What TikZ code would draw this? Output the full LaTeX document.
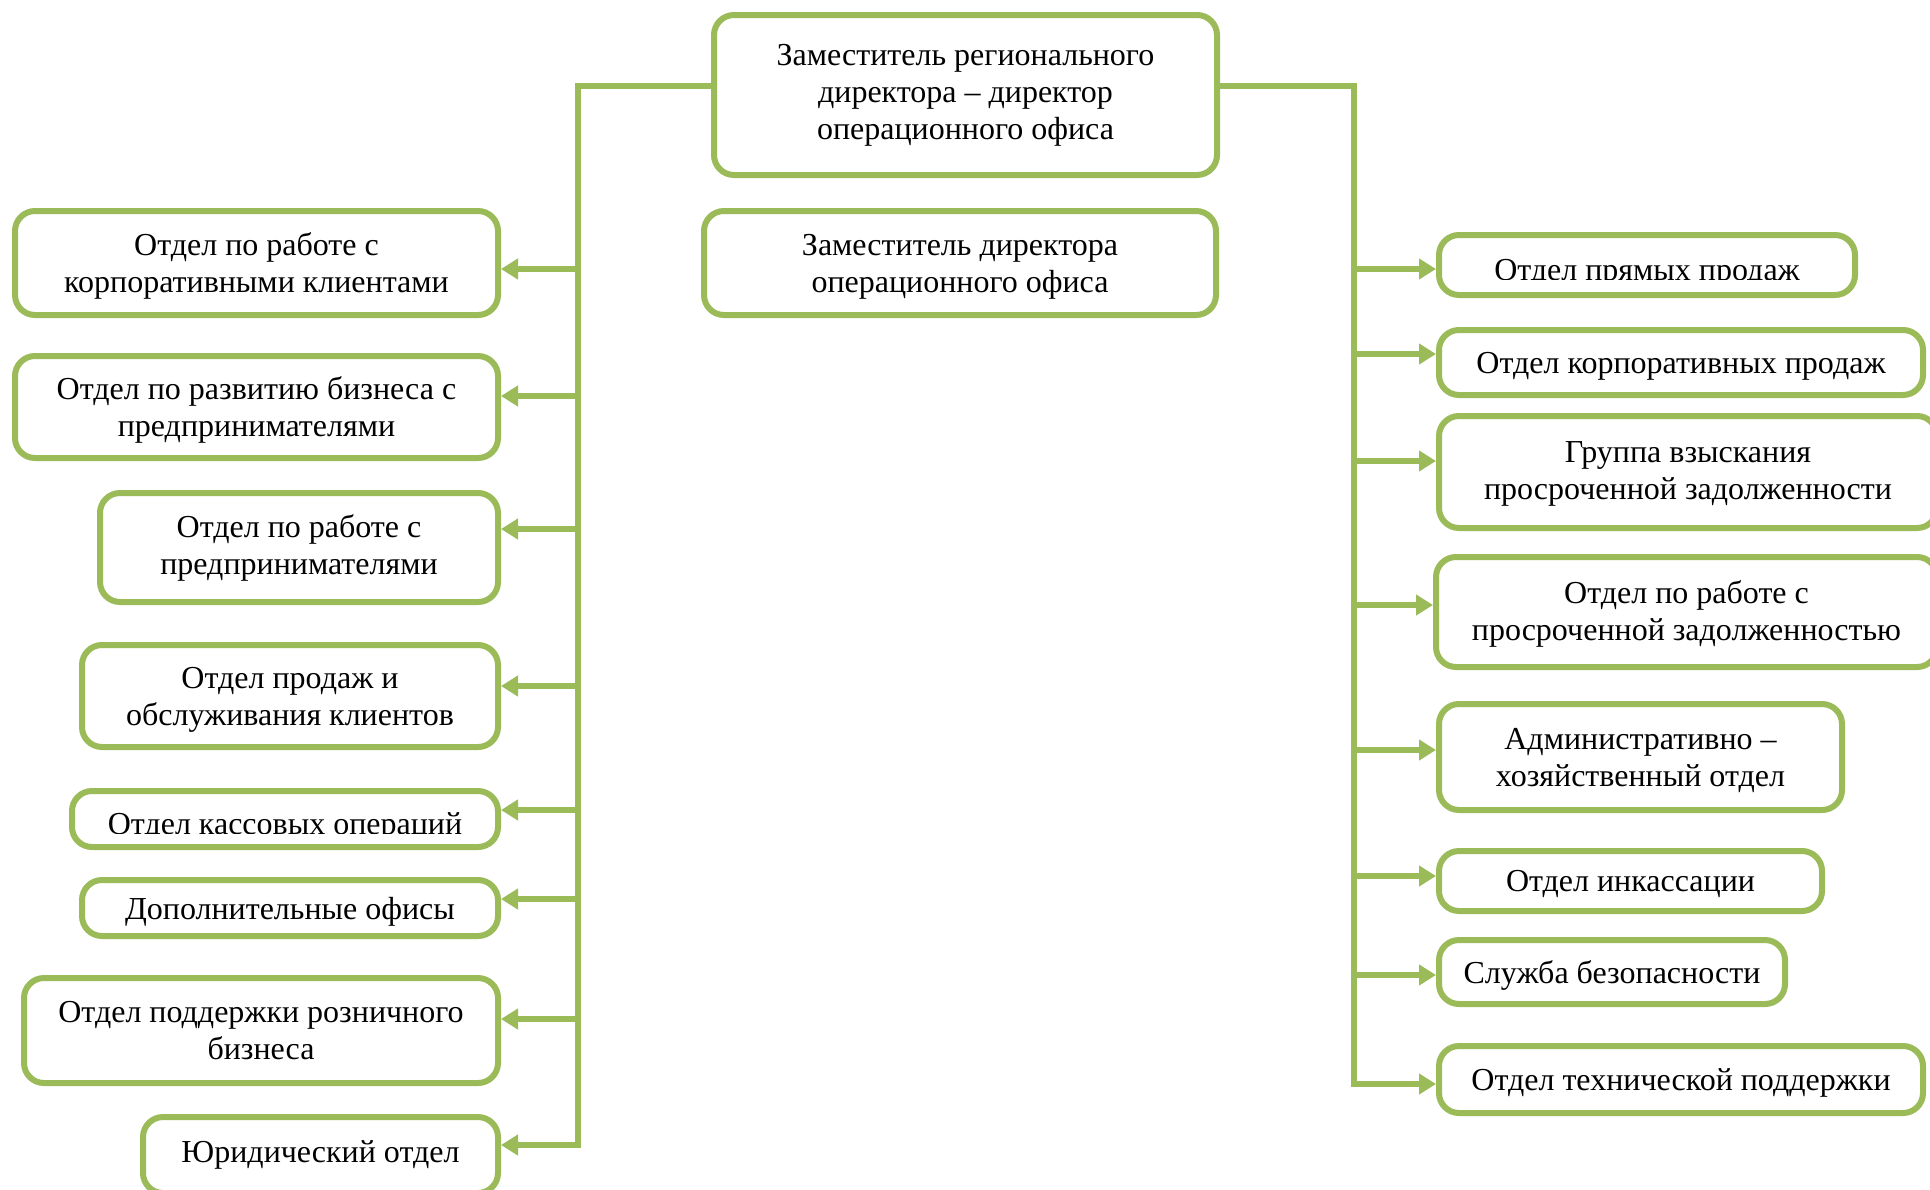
\documentclass[tikz,border=0pt]{standalone}
\usepackage{fontspec}
\setmainfont{Liberation Serif}
\usetikzlibrary{arrows.meta,positioning,calc}
\definecolor{boxgreen}{HTML}{9BBB59}

\begin{document}
\begin{tikzpicture}[x=1pt,y=-1pt,
    unit/.style={draw=boxgreen,line width=6pt,rounded corners=20pt,align=center,
      inner sep=0pt,font=\fontsize{32}{37}\selectfont},
    drop/.style={text depth=#1},
    label text/.style={inner sep=0pt,anchor=base,font=\fontsize{32}{37}\selectfont},
    link/.style={boxgreen,line width=6pt},
    arr/.style={boxgreen,line width=6pt,-{Triangle[length=17pt,width=20pt]}}]
  \useasboundingbox (0,0) rectangle (1930,1189);
  % Head
  \node[unit,minimum width=503pt,minimum height=160pt] (head) at (965.5,95)
    {Заместитель регионального\\директора – директор\\операционного офиса};
  \node[unit,drop=-3pt,minimum width=512pt,minimum height=104pt] (deputy) at (960,263)
    {Заместитель директора\\операционного офиса};
  % Left column
  \node[unit,drop=0pt,minimum width=483pt,minimum height=104pt] (l1) at (256.5,263)
    {Отдел по работе с\\корпоративными клиентами};
  \node[unit,drop=-3pt,minimum width=483pt,minimum height=102pt] (l2) at (256.5,407)
    {Отдел по развитию бизнеса с\\предпринимателями};
  \node[unit,minimum width=398pt,minimum height=109pt] (l3) at (299,547.5)
    {Отдел по работе с\\предпринимателями};
  \node[unit,drop=-3pt,minimum width=416pt,minimum height=102pt] (l4) at (290,696)
    {Отдел продаж и\\обслуживания клиентов};
  \node[unit,minimum width=426pt,minimum height=56pt] (l5) at (285,819) {};
  \begin{scope}
    \clip (l5.north west) rectangle (l5.east |- 0,833);
    \node[label text] (l5t) at (285,834) {Отдел кассовых операций};
  \end{scope}
  \node[unit,drop=-3pt,minimum width=416pt,minimum height=56pt] (l6) at (290,908)
    {Дополнительные офисы};
  \node[unit,minimum width=474pt,minimum height=105pt] (l7) at (261,1030.5)
    {Отдел поддержки розничного\\бизнеса};
  \node[unit,minimum width=355pt,minimum height=76pt] (l8) at (320.5,1155)
    {Юридический отдел};
  % Right column
  \node[unit,minimum width=416pt,minimum height=60pt] (r1) at (1647,265) {};
  \begin{scope}
    \clip (r1.north west) rectangle (r1.east |- 0,279);
    \node[label text] (r1t) at (1647,280) {Отдел прямых продаж};
  \end{scope}
  \node[unit,drop=-3pt,minimum width=484pt,minimum height=65pt] (r2) at (1681,362.5)
    {Отдел корпоративных продаж};
  \node[unit,drop=3pt,minimum width=498pt,minimum height=112pt] (r3) at (1688,472)
    {Группа взыскания\\просроченной задолженности};
  \node[unit,drop=2pt,minimum width=501pt,minimum height=110pt] (r4) at (1686.5,612)
    {Отдел по работе с\\просроченной задолженностью};
  \node[unit,drop=-2pt,minimum width=403pt,minimum height=106pt] (r5) at (1640.5,757)
    {Административно –\\хозяйственный отдел};
  \node[unit,drop=-5pt,minimum width=383pt,minimum height=60pt] (r6) at (1630.5,881)
    {Отдел инкассации};
  \node[unit,drop=-3pt,minimum width=346pt,minimum height=64pt] (r7) at (1612,972)
    {Служба безопасности};
  \node[unit,drop=0pt,minimum width=484pt,minimum height=67pt] (r8) at (1681,1079.5)
    {Отдел технической поддержки};
  % Trunks
  \coordinate (ltop) at (578,86);
  \coordinate (lbot) at (578,1148);
  \coordinate (rtop) at (1354,86);
  \coordinate (rbot) at (1354,1087);
  \draw[link] (head.west |- ltop) -- (ltop) -- (lbot);
  \draw[link] (head.east |- rtop) -- (rtop) -- (rbot);
  % Arrows
  \foreach \n/\y in {l1/269,l2/396,l3/529,l4/686,l5/810,l6/899,l7/1019,l8/1145}{
    \coordinate (la) at (578,\y);
    \draw[arr] (la) -- (la -| \n.east);
  }
  \foreach \n/\y in {r1/269,r2/354,r3/461,r4/605,r5/750,r6/876,r7/975,r8/1084}{
    \coordinate (ra) at (1354,\y);
    \draw[arr] (ra) -- (ra -| \n.west);
  }
\end{tikzpicture}
\end{document}
